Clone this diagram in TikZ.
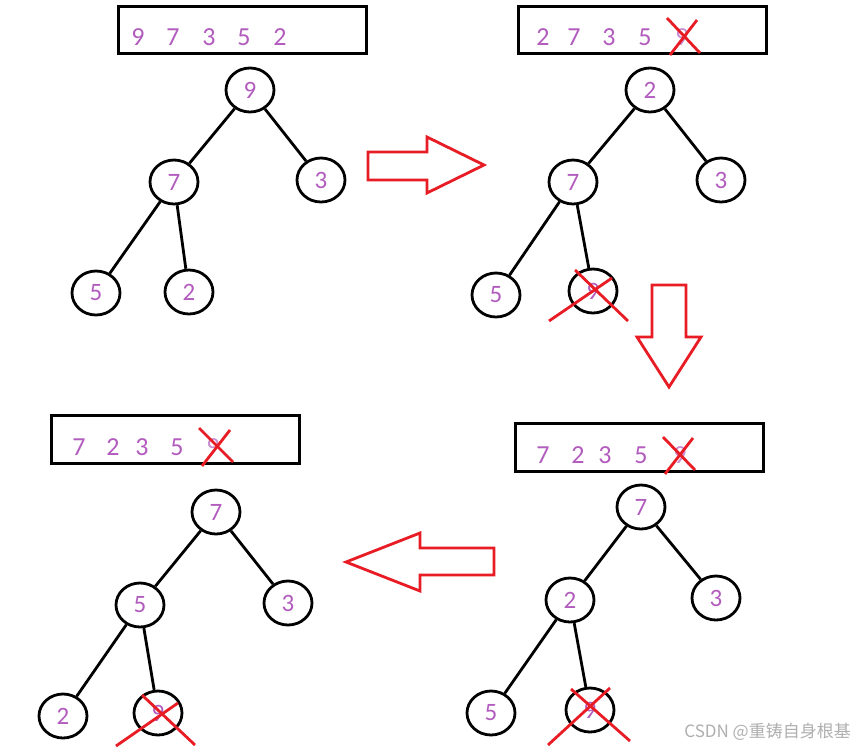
\documentclass[tikz,border=0pt]{standalone}
\usepackage{fontspec}
\setmainfont{Carlito}
\newfontfamily\cjkfont{Noto Sans CJK SC}
\usetikzlibrary{shapes.geometric}
\definecolor{numpurple}{RGB}{178,92,190}
\definecolor{xred}{RGB}{232,28,36}
\definecolor{wmgray}{RGB}{175,175,175}
\tikzset{
  tnode/.style={ellipse,draw=black,line width=2.8pt,minimum width=48pt,minimum height=44pt,inner sep=0pt,
    text=numpurple,font=\fontsize{25}{25}\selectfont},
  edge/.style={line width=2.8pt,black},
  box/.style={draw=black,line width=3pt},
  num/.style={text=numpurple,font=\fontsize{26}{26}\selectfont,inner sep=0pt},
  xline/.style={draw=xred,line width=2.8pt},
  bigarrow/.style={draw=xred,line width=2.8pt,line join=miter},
}
\begin{document}
\begin{tikzpicture}[x=1pt,y=-1pt]
\useasboundingbox (0,0) rectangle (854,747);
\fill[white] (0,0) rectangle (854,747);

% ---------- Panel 1 (top left) ----------
\draw[box] (118,6) rectangle (366,53);
\node[num] (a1) at (138,37) {9};
\node[num] (a2) at (173,37) {7};
\node[num] (a3) at (209,37) {3};
\node[num] (a4) at (244,37) {5};
\node[num] (a5) at (280,37) {2};
\node[tnode] (p9) at (250,90) {9};
\node[tnode] (p7) at (174,182) {7};
\node[tnode] (p3) at (321,180) {3};
\node[tnode] (p5) at (96,293) {5};
\node[tnode] (p2) at (189,292) {2};
\draw[edge] (p9) -- (p7);
\draw[edge] (p9) -- (p3);
\draw[edge] (p7) -- (p5);
\draw[edge] (p7) -- (p2);

% right arrow
\draw[bigarrow] (368,152) -- (427,152) -- (427,137) -- (484,165) -- (427,193) -- (427,180) -- (368,180) -- cycle;

% ---------- Panel 2 (top right) ----------
\draw[box] (518,6) rectangle (766,53);
\node[num] (b1) at (543,37) {2};
\node[num] (b2) at (574,37) {7};
\node[num] (b3) at (609,37) {3};
\node[num] (b4) at (645,37) {5};
\node[num,opacity=0.7] (b5) at (682,37) {9};
\draw[xline] (667,18) -- (700,53);
\draw[xline] (697,20) -- (670,55);
\node[tnode] (q2) at (650,90) {2};
\node[tnode] (q7) at (573,182) {7};
\node[tnode] (q3) at (721,180) {3};
\node[tnode] (q5) at (496,295) {5};
\node[tnode] (q9) at (593,291) {9};
\draw[edge] (q2) -- (q7);
\draw[edge] (q2) -- (q3);
\draw[edge] (q7) -- (q5);
\draw[edge] (q7) -- (q9);
\draw[xline] (575,270) -- (628,321);
\draw[xline] (612,278) -- (549,321);

% down arrow
\draw[bigarrow] (652,285) -- (686,285) -- (686,337) -- (701,337) -- (669,387) -- (637,337) -- (652,337) -- cycle;

% ---------- Panel 3 (bottom right) ----------
\draw[box] (515,423) rectangle (763,471);
\node[num] (c1) at (543,455) {7};
\node[num] (c2) at (578,455) {2};
\node[num] (c3) at (605,455) {3};
\node[num] (c4) at (641,455) {5};
\node[num,opacity=0.7] (c5) at (680,455) {9};
\draw[xline] (663,437) -- (695,470);
\draw[xline] (693,438) -- (665,474);
\node[tnode] (r7) at (641,507) {7};
\node[tnode] (r2) at (570,600) {2};
\node[tnode] (r3) at (716,598) {3};
\node[tnode] (r5) at (491,713) {5};
\node[tnode] (r9) at (590,710) {9};
\draw[edge] (r7) -- (r2);
\draw[edge] (r7) -- (r3);
\draw[edge] (r2) -- (r5);
\draw[edge] (r2) -- (r9);
\draw[xline] (571,689) -- (630,741);
\draw[xline] (610,688) -- (548,745);

% left arrow
\draw[bigarrow] (494,548) -- (420,548) -- (420,533) -- (346,562) -- (420,591) -- (420,575) -- (494,575) -- cycle;

% ---------- Panel 4 (bottom left) ----------
\draw[box] (51,415) rectangle (299,463);
\node[num] (d1) at (79,447) {7};
\node[num] (d2) at (113,447) {2};
\node[num] (d3) at (142,447) {3};
\node[num] (d4) at (177,447) {5};
\node[num,opacity=0.7] (d5) at (213,447) {9};
\draw[xline] (199,428) -- (233,462);
\draw[xline] (230,430) -- (202,466);
\node[tnode] (s7) at (216,512) {7};
\node[tnode] (s5) at (140,605) {5};
\node[tnode] (s3) at (288,603) {3};
\node[tnode] (s2) at (63,716) {2};
\node[tnode] (s9) at (158,713) {9};
\draw[edge] (s7) -- (s5);
\draw[edge] (s7) -- (s3);
\draw[edge] (s5) -- (s2);
\draw[edge] (s5) -- (s9);
\draw[xline] (142,695) -- (195,745);
\draw[xline] (178,703) -- (116,746);

% watermark
\node[text=wmgray,font=\cjkfont\fontsize{17}{17}\selectfont,anchor=east,inner sep=0pt] (wm) at (851,732) {CSDN @重铸自身根基};
\end{tikzpicture}
\end{document}
